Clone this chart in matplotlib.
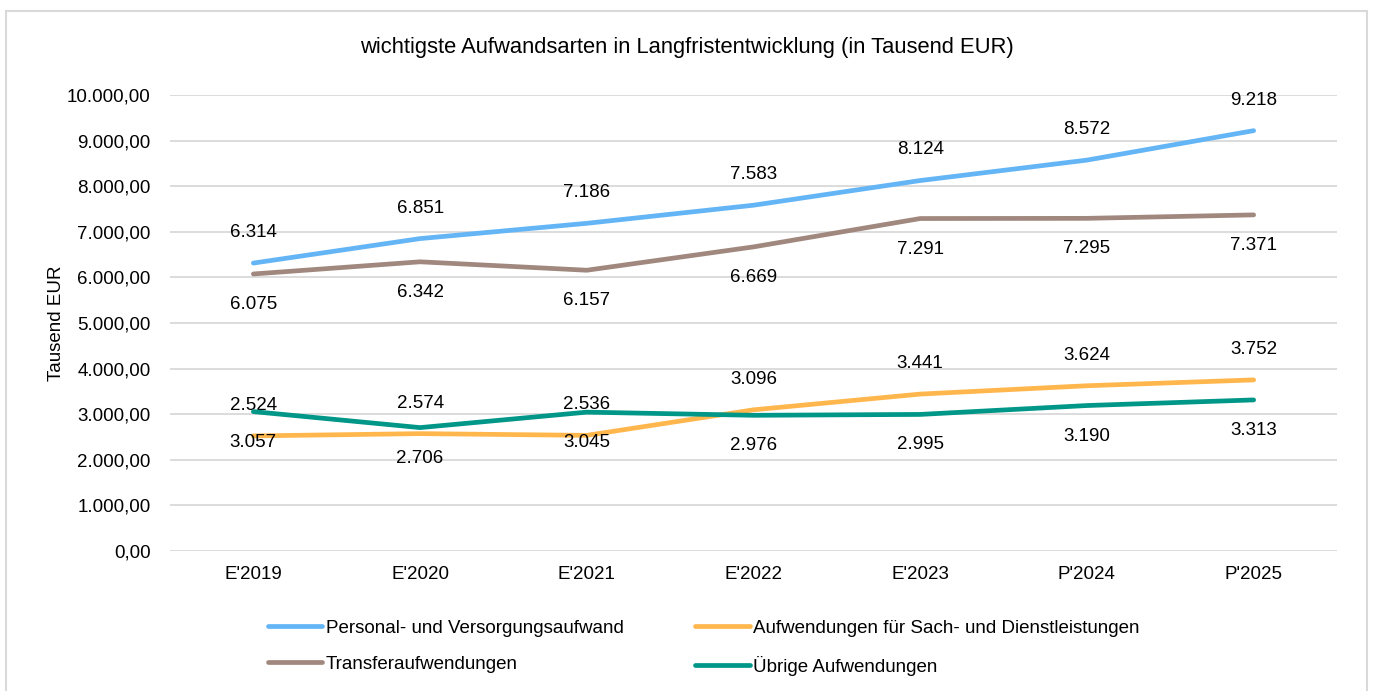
import matplotlib
matplotlib.use("Agg")
import matplotlib.pyplot as plt
from matplotlib.patches import Rectangle
from matplotlib.ticker import FuncFormatter

plt.rcParams['font.family'] = ['Liberation Sans', 'DejaVu Sans']

# ---------- Daten ----------
jahre = ["E'2019", "E'2020", "E'2021", "E'2022", "E'2023", "P'2024", "P'2025"]
personal = [6314, 6851, 7186, 7583, 8124, 8572, 9218]
sach = [2524, 2574, 2536, 3096, 3441, 3624, 3752]
transfer = [6075, 6342, 6157, 6669, 7291, 7295, 7371]
uebrige = [3057, 2706, 3045, 2976, 2995, 3190, 3313]

# (name, werte, farbe, label oben?)
serien = [
    ("Personal- und Versorgungsaufwand", personal, "#64b5f6", True),
    ("Aufwendungen für Sach- und Dienstleistungen", sach, "#ffb74d", True),
    ("Transferaufwendungen", transfer, "#a1887f", False),
    ("Übrige Aufwendungen", uebrige, "#009688", False),
]

fs = 13.5


def de_zahl(v, nachkomma=0):
    s = f"{v:,.{nachkomma}f}"
    return s.replace(",", "X").replace(".", ",").replace("X", ".")


fig = plt.figure(figsize=(13.75, 6.91), dpi=100)
ax = fig.add_axes([170 / 1375, 140 / 691, 1167 / 1375, 456 / 691])

x = list(range(len(jahre)))
handles = {}
for name, werte, farbe, oben in serien:
    h, = ax.plot(x, werte, color=farbe, lw=3.4, solid_capstyle='round',
                 solid_joinstyle='round', label=name, zorder=3)
    handles[name] = h
    for xi, v in zip(x, werte):
        ax.annotate(de_zahl(v), (xi, v), xytext=(0, 22 if oben else -22),
                    textcoords='offset points', ha='center', va='center',
                    fontsize=fs, color='#000000')

ax.set_xlim(-0.5, len(jahre) - 0.5)
ax.set_ylim(0, 10000)
ax.set_yticks(range(0, 10001, 1000))
ax.yaxis.set_major_formatter(FuncFormatter(lambda v, p: de_zahl(v, 2)))
ax.set_xticks(x)
ax.set_xticklabels(jahre)
ax.tick_params(axis='both', length=0, labelsize=fs, colors='#000000')
ax.tick_params(axis='y', pad=14)
ax.tick_params(axis='x', pad=11)
ax.grid(axis='y', color='#d9d9d9', lw=1.3)
ax.set_axisbelow(True)
for s in ax.spines.values():
    s.set_visible(False)
ax.set_ylabel('Tausend EUR', fontsize=fs, labelpad=1)

fig.text(0.5 * (358 + 1015) / 1375, 1 - 48 / 691,
         'wichtigste Aufwandsarten in Langfristentwicklung (in Tausend EUR)',
         ha='center', va='center', fontsize=15.8)

# Legende unten (spaltenweise gefüllt)
reihenfolge = ["Personal- und Versorgungsaufwand", "Transferaufwendungen",
               "Aufwendungen für Sach- und Dienstleistungen", "Übrige Aufwendungen"]
fig.legend(handles=[handles[n] for n in reihenfolge], ncol=2,
           loc='upper left', bbox_to_anchor=(251 / 1375, 1 - 603 / 691),
           frameon=False, fontsize=fs, handlelength=2.9, handletextpad=0.2,
           columnspacing=3.8, labelspacing=1.0)

# Rahmen um die Grafik
fig.add_artist(Rectangle((6 / 1375, -0.02), 1361 / 1375, 1.02 - 11 / 691,
                         transform=fig.transFigure, fill=False,
                         edgecolor='#d9d9d9', lw=1.5))

fig.savefig('out.png', dpi=100)
